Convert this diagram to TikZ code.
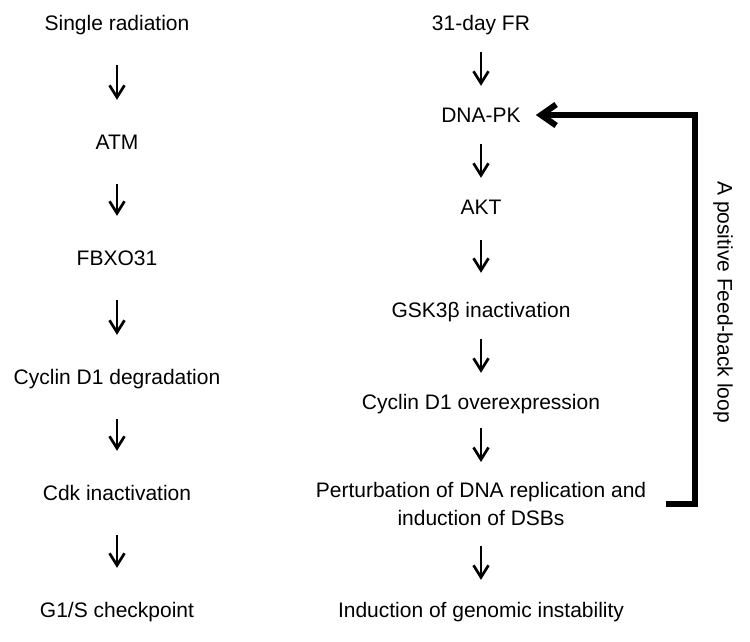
\documentclass[tikz,border=0pt]{standalone}
\usepackage{fontspec}
\setmainfont{Liberation Sans}
\usetikzlibrary{arrows.meta}
\begin{document}
\begin{tikzpicture}[x=1pt,y=-1pt,
  lbl/.style={font=\fontsize{21}{26}\selectfont, inner sep=0pt, text height=15pt, text depth=0pt, anchor=center},
  lbl2/.style={font=\fontsize{21}{28}\selectfont, inner sep=0pt, align=center, anchor=north},
  arr/.style={-{Straight Barb[length=12pt,width=15pt]}, line width=2.7pt},
  larr/.style={arr, shorten <=34.5pt, shorten >=34.5pt},
  rarr/.style={arr, shorten <=21.5pt, shorten >=21.5pt},
  fb/.style={-{Straight Barb[length=15pt,width=21pt]}, line width=6pt},
  side/.style={font=\fontsize{21}{26}\selectfont, inner sep=0pt, rotate=-90}
]
\useasboundingbox (0,0) rectangle (750,641);
% left column
\node[lbl] (sr)   at (117,23)  {Single radiation};
\node[lbl] (atm)  at (117,142) {ATM};
\node[lbl] (fbx)  at (117,258) {FBXO31};
\node[lbl] (cdeg) at (117,377) {Cyclin D1 degradation};
\node[lbl] (cdk)  at (117,493) {Cdk inactivation};
\node[lbl] (g1s)  at (117,610) {G1/S checkpoint};
\draw[larr] (sr) -- (atm);
\draw[larr] (atm) -- (fbx);
\draw[larr] (fbx) -- (cdeg);
\draw[larr] (cdeg) -- (cdk);
\draw[larr] (cdk) -- (g1s);
% right column
\node[lbl] (fr)    at (481,23)  {31-day FR};
\node[lbl] (dnapk) at (481,115) {DNA-PK};
\node[lbl] (akt)   at (481,207) {AKT};
\node[lbl] (gsk)   at (481,310) {GSK3β inactivation};
\node[lbl] (cov)   at (481,402) {Cyclin D1 overexpression};
\node[lbl2] (pert) at (481,482.5) {Perturbation of DNA replication and\\induction of DSBs};
\node[lbl] (gen)   at (481,610) {Induction of genomic instability};
\draw[rarr] (fr) -- (dnapk);
\draw[rarr] (dnapk) -- (akt);
\draw[arr, shorten <=25.5pt, shorten >=29.5pt] (akt) -- (gsk);
\draw[rarr] (gsk) -- (cov);
\draw[arr, shorten <=18.5pt, shorten >=20.5pt] (cov.south) -- (pert.north);
\draw[arr, shorten <=19.5pt, shorten >=22.5pt] (pert.south) -- (gen.north);
% feedback loop
\coordinate (lc) at (695,115);
\draw[fb, shorten <=20pt, shorten >=15pt] (pert.east) -| (lc) -- (dnapk.east);
\node[side] (loop) at (723,302) {A positive Feed-back loop};
\end{tikzpicture}
\end{document}
